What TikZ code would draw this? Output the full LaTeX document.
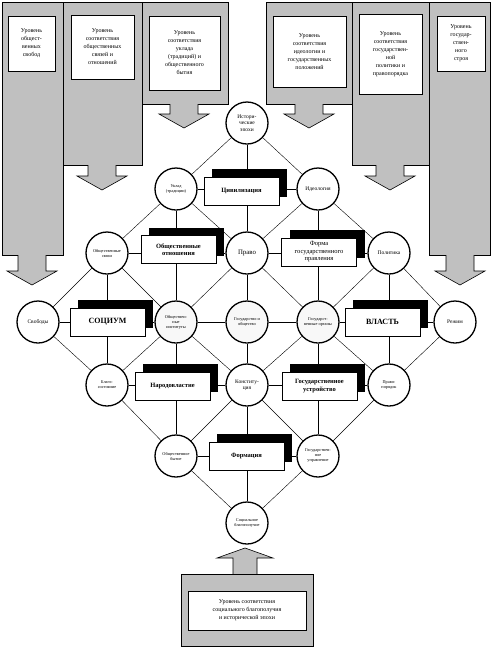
\documentclass[tikz,border=0pt]{standalone}
\usepackage{fontspec}
\setmainfont{Liberation Serif}
\usetikzlibrary{shadows,backgrounds}

\definecolor{panelgray}{RGB}{192,192,192}
\definecolor{dotfill}{RGB}{248,248,248}

\begin{document}
\begin{tikzpicture}[x=1pt,y=-1pt,
  circ/.style={draw, circle, line width=1.3pt, fill=white, minimum size=42pt, inner sep=0pt, align=center, font=\fontsize{4.3}{5}\selectfont},
  midtext/.style={font=\fontsize{5.5}{6.5}\selectfont},
  bigtext/.style={font=\fontsize{6.8}{7.8}\selectfont},
  plate/.style={draw, fill=white, line width=0.5pt, minimum width=75pt, minimum height=28pt, inner sep=1pt, align=center, font=\bfseries\fontsize{6.5}{7.5}\selectfont, drop shadow={shadow xshift=8pt, shadow yshift=8pt, opacity=1, fill=black}},
  panel/.style={draw, fill=panelgray, line width=0.6pt},
  lvl/.style={draw, fill=white, line width=0.5pt, inner sep=1pt, align=center, font=\fontsize{6}{8}\selectfont},
  link/.style={line width=0.4pt}]
\useasboundingbox (0,0) rectangle (496,649);

% gray panels on top
\draw[panel] (2,2) rectangle (63,255);
\draw[panel] (63,2) rectangle (142,165);
\draw[panel] (142,2) rectangle (228,104);
\draw[panel] (266,2) rectangle (352,104);
\draw[panel] (352,2) rectangle (429,165);
\draw[panel] (429,2) rectangle (490,255);
\foreach \cx/\ty/\tip in {32/255/285, 102/165/190, 184/104/128, 309/104/128, 390/165/190, 460/255/285}
  \draw[panel] (\cx-14,\ty) -- (\cx-14,\tip-14) -- (\cx-25,\tip-14) -- (\cx,\tip) -- (\cx+25,\tip-14) -- (\cx+14,\tip-14) -- (\cx+14,\ty);

\node (lv1) [lvl, minimum width=47pt, minimum height=55pt] at (31.5,43.5) {Уровень\\общест-\\венных\\свобод};
\node (lv2) [lvl, minimum width=63pt, minimum height=64pt] at (102.5,47) {Уровень\\соответствия\\общественных\\связей и\\отношений};
\node (lv3) [lvl, minimum width=71pt, minimum height=74pt] at (184.5,53) {Уровень\\соответствия\\уклада\\(традиций) и\\общественного\\бытия};
\node (lv4) [lvl, minimum width=73pt, minimum height=71pt] at (309.5,51.5) {Уровень\\соответствия\\идеологии и\\государственных\\положений};
\node (lv5) [lvl, minimum width=63pt, minimum height=80pt] at (390.5,54) {Уровень\\соответствия\\государствен-\\ной\\политики и\\правопорядка};
\node (lv6) [lvl, minimum width=48pt, minimum height=55pt] at (461,43.5) {Уровень\\государ-\\ствен-\\ного\\строя};

% gray panel at the bottom
\draw[panel] (233,574) -- (233,558) -- (217,558) -- (245,548) -- (273,558) -- (257,558) -- (257,574);
\draw[panel] (181,574) rectangle (313,646);
\node (lv7) [lvl, minimum width=118pt, minimum height=39pt] at (247,610.5) {Уровень соответствия\\социального благополучия\\и исторической эпохи};

% circles
\node (epoch) [circ, midtext] at (247,123) {Истори-\\ческие\\эпохи};
\node (uklad) [circ] at (176,189) {Уклад\\(традиции)};
\node (ideo) [circ, midtext] at (318,189) {Идеология};
\node (svyaz) [circ] at (107,253) {Общественные\\связи};
\node (pravo) [circ, bigtext] at (247,253) {Право};
\node (polit) [circ, midtext] at (389,253) {Политика};
\node (svob) [circ, midtext] at (38,322) {Свободы};
\node (inst) [circ, fill=dotfill] at (176,322) {Обществен-\\ные\\институты};
\node (gos) [circ, fill=dotfill] at (247,322) {Государство и\\общество};
\node (organ) [circ, fill=dotfill] at (318,322) {Государст-\\венные органы};
\node (rezhim) [circ, midtext] at (455,322) {Режим};
\node (blago) [circ] at (107,385) {Благо-\\состояние};
\node (konst) [circ, midtext] at (247,385) {Конститу-\\ция};
\node (poryad) [circ] at (389,385) {Право-\\порядок};
\node (bytie) [circ] at (176,456) {Общественное\\бытие};
\node (uprav) [circ] at (318,456) {Государствен-\\ное\\управление};
\node (social) [circ] at (247,523) {Социальное\\благополучие};

% plates with shadow
\node (civ) [plate] at (241.5,191) {Цивилизация};
\node (otn) [plate] at (178.5,249.5) {Общественные\\отношения};
\node (forma) [plate, font=\fontsize{6.5}{7.5}\selectfont] at (319,252) {Форма\\государственного\\правления};
\node (socium) [plate, font=\bfseries\fontsize{8}{9}\selectfont] at (107.5,322) {СОЦИУМ};
\node (vlast) [plate, font=\bfseries\fontsize{8}{9}\selectfont] at (382.5,322) {ВЛАСТЬ};
\node (narod) [plate] at (172.5,386) {Народовластие};
\node (ustr) [plate] at (319.5,386) {Государственное\\устройство};
\node (formac) [plate] at (246.5,456) {Формация};

% links
\begin{scope}[on background layer]
\draw[link] (epoch) -- (uklad);
\draw[link] (epoch) -- (ideo);
\draw[link] (epoch) -- (pravo);
\draw[link] (uklad) -- (ideo);
\draw[link] (uklad) -- (svyaz);
\draw[link] (uklad) -- (pravo);
\draw[link] (uklad) -- (inst);
\draw[link] (ideo) -- (pravo);
\draw[link] (ideo) -- (polit);
\draw[link] (ideo) -- (organ);
\draw[link] (svyaz) -- (pravo);
\draw[link] (pravo) -- (polit);
\draw[link] (svyaz) -- (svob);
\draw[link] (svyaz) -- (inst);
\draw[link] (svyaz) -- (blago);
\draw[link] (pravo) -- (inst);
\draw[link] (pravo) -- (organ);
\draw[link] (pravo) -- (gos);
\draw[link] (polit) -- (organ);
\draw[link] (polit) -- (rezhim);
\draw[link] (polit) -- (poryad);
\draw[link] (svob) -- (inst);
\draw[link] (inst) -- (gos);
\draw[link] (gos) -- (organ);
\draw[link] (organ) -- (rezhim);
\draw[link] (svob) -- (blago);
\draw[link] (inst) -- (blago);
\draw[link] (inst) -- (konst);
\draw[link] (inst) -- (bytie);
\draw[link] (gos) -- (konst);
\draw[link] (organ) -- (konst);
\draw[link] (organ) -- (poryad);
\draw[link] (organ) -- (uprav);
\draw[link] (rezhim) -- (poryad);
\draw[link] (blago) -- (konst);
\draw[link] (konst) -- (poryad);
\draw[link] (blago) -- (bytie);
\draw[link] (konst) -- (bytie);
\draw[link] (konst) -- (uprav);
\draw[link] (poryad) -- (uprav);
\draw[link] (konst) -- (social);
\draw[link] (bytie) -- (uprav);
\draw[link] (bytie) -- (social);
\draw[link] (uprav) -- (social);
\end{scope}
\end{tikzpicture}
\end{document}
